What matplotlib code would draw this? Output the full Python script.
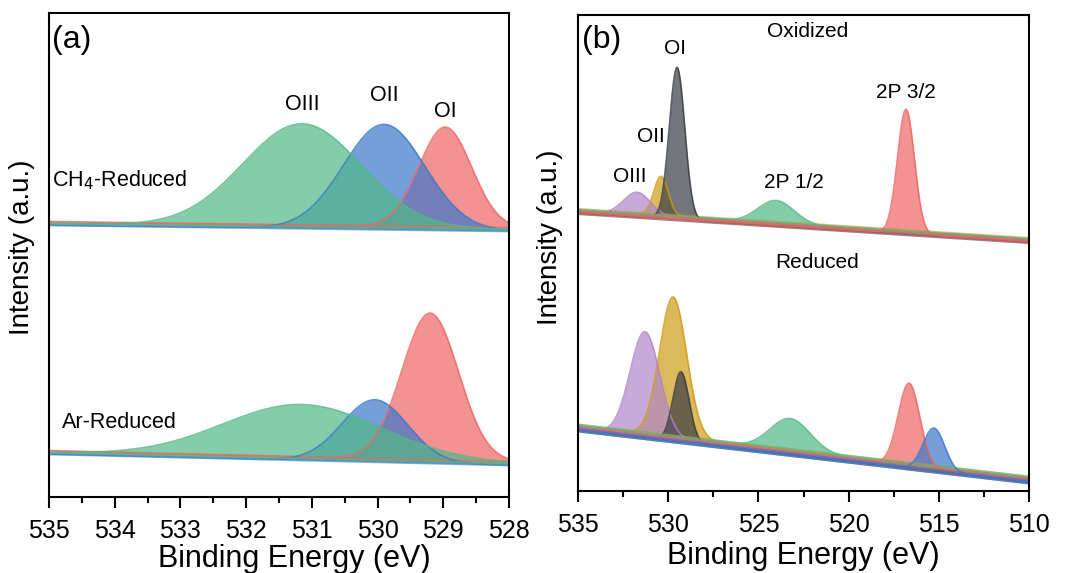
import numpy as np
import matplotlib
matplotlib.use("Agg")
import matplotlib.pyplot as plt

plt.rcParams['font.family'] = ['Liberation Sans', 'DejaVu Sans']

# peak fit parameters: centre (eV), height (a.u.), sigma (eV)
# components listed in drawing order (later ones are painted on top)
a_names = ['OI', 'OII', 'OIII']
a_colors = ['#EE6464', '#3B77CA', '#52B886']

# (a) O 1s, CH4-reduced
a_ch4_center = [528.97, 529.90, 531.15]
a_ch4_height = [100, 105, 103]
a_ch4_sigma = [0.40, 0.62, 0.90]
a_ch4_base = [275, 269]          # background at 535 and 528 eV

# (a) O 1s, Ar-reduced
a_ar_center = [529.20, 530.04, 531.15]
a_ar_height = [147, 62, 54]
a_ar_sigma = [0.43, 0.50, 1.20]
a_ar_base = [46, 35]

# (b) O 1s + 2p: OII, OIII, OI, 2p 1/2, 2p 3/2, extra 2p component
b_colors = ['#CE9C16', '#B086CA', '#383C42', '#52B886', '#EE6464', '#3B77CA']

# (b) oxidized
b_ox_center = [530.40, 531.73, 529.51, 524.02, 516.82]
b_ox_height = [39, 23, 152, 23, 124]
b_ox_sigma = [0.40, 0.75, 0.43, 1.00, 0.47]
b_ox_base = [281, 252]           # background at 535 and 510 eV

# (b) reduced
b_red_center = [529.73, 531.29, 529.29, 523.24, 516.65, 515.27]
b_red_height = [140, 104, 70, 32, 83, 43]
b_red_sigma = [0.75, 0.82, 0.45, 1.10, 0.60, 0.60]
b_red_base = [65, 13]


def gauss(x, c, h, s):
    return h * np.exp(-0.5 * ((x - c) / s) ** 2)


def background(x, xr, base):
    # straight background from base[0] at xr[0] to base[1] at xr[1]
    return base[0] + (base[1] - base[0]) * (xr[0] - x) / (xr[0] - xr[1])


def draw_set(ax, x, centers, heights, sigmas, base, colors, spread, edge):
    bg = background(x, (x[0], x[-1]), base)
    n = len(centers)
    for i in range(n):
        # each fitted component sits on its own slightly shifted background
        off = -spread * ((i * 2) % n) / max(n - 1, 1)
        y0 = bg + off
        y1 = y0 + gauss(x, centers[i], heights[i], sigmas[i])
        ax.fill_between(x, y0, y1, color=colors[i], alpha=0.7, lw=0)
        ax.plot(x, y1, color=colors[i], lw=1.2, alpha=0.8)
        ax.plot(x, y0, color=colors[i], lw=edge, alpha=0.6,
                solid_capstyle='butt')


def style_axis(ax, xlim, major, minor, xlab_xy, ylab_xy):
    ax.set_xlim(*xlim)
    ax.set_yticks([])
    ax.set_xticks(np.arange(xlim[1], xlim[0] + 0.01, major))
    ax.set_xticks(np.arange(xlim[1], xlim[0] + 0.01, minor), minor=True)
    ax.tick_params(axis='x', which='major', direction='out', length=8,
                   width=1.5, labelsize=18, pad=8)
    ax.tick_params(axis='x', which='minor', direction='out', length=4, width=1.5)
    for sp in ax.spines.values():
        sp.set_linewidth(1.5)
    ax.set_xlabel('Binding Energy (eV)', fontsize=22)
    ax.xaxis.set_label_coords(*xlab_xy, transform=ax.transAxes)
    ax.set_ylabel('Intensity (a.u.)', fontsize=20)
    ax.yaxis.set_label_coords(*ylab_xy, transform=ax.transAxes)


fig = plt.figure(figsize=(10.65, 5.73), dpi=100)
W, H = 1065, 573
ax1 = fig.add_axes([49 / W, 1 - 497 / H, 460 / W, 484 / H])
ax2 = fig.add_axes([578 / W, 1 - 491 / H, 451 / W, 476 / H])

# panel (a)
xa = np.linspace(535, 528, 800)
draw_set(ax1, xa, a_ch4_center, a_ch4_height, a_ch4_sigma, a_ch4_base,
         a_colors, 3, 2)
draw_set(ax1, xa, a_ar_center, a_ar_height, a_ar_sigma, a_ar_base, a_colors,
         3, 2)
ax1.set_ylim(0, 484)
style_axis(ax1, (535, 528), 1, 0.5, (0.533, -0.098), (-0.03, 0.517))

ax1.text(0.006, 0.975, '(a)', transform=ax1.transAxes, fontsize=23,
         va='top', ha='left')
for name, c, h, yoff in zip(a_names, a_ch4_center, a_ch4_height, [16, 26, 18]):
    ax1.text(c, background(c, (535, 528), a_ch4_base) + h + yoff, name,
             fontsize=15.5, ha='center', va='center')
ax1.text(534.95, 317, 'CH$_4$-Reduced', fontsize=15.5, ha='left', va='center')
ax1.text(534.8, 74, 'Ar-Reduced', fontsize=15.5, ha='left', va='center')

# panel (b)
xb = np.linspace(535, 510, 1500)
draw_set(ax2, xb, b_ox_center, b_ox_height, b_ox_sigma, b_ox_base,
         b_colors[:5], 3, 3)
draw_set(ax2, xb, b_red_center, b_red_height, b_red_sigma, b_red_base,
         b_colors, 5, 3.5)
ax2.set_ylim(0, 476)
style_axis(ax2, (535, 510), 5, 2.5, (0.5, -0.106), (-0.033, 0.534))

ax2.text(0.008, 0.98, '(b)', transform=ax2.transAxes, fontsize=23,
         va='top', ha='left')
ax2.text(0.51, 0.965, 'Oxidized', transform=ax2.transAxes, fontsize=15,
         ha='center', va='center')
ax2.text(0.53, 0.48, 'Reduced', transform=ax2.transAxes, fontsize=15,
         ha='center', va='center')
ox_labels = ['OIII', 'OII', 'OI', '2P 1/2', '2P 3/2']
ox_pos = [(532.15, 314), (530.95, 354), (529.6, 443), (523.05, 308),
          (516.8, 398)]
for lab, (px, py) in zip(ox_labels, ox_pos):
    ax2.text(px, py, lab, fontsize=15, ha='center', va='center')

fig.savefig('out.png', dpi=100)
